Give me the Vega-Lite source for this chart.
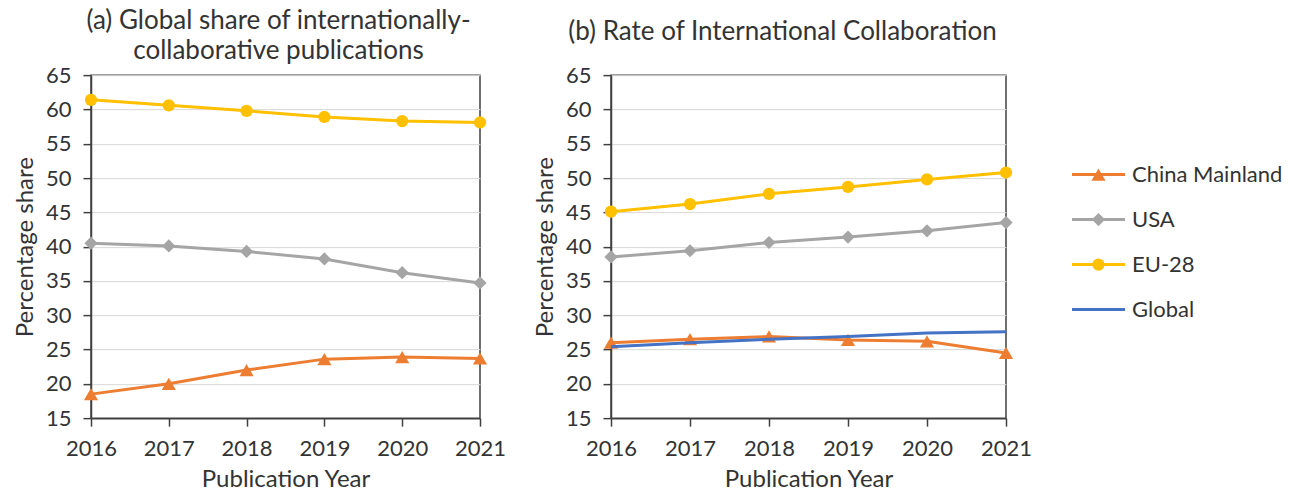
{
  "$schema": "https://vega.github.io/schema/vega-lite/v6.json",
  "padding": {"left": 12, "top": 7, "right": 5, "bottom": 5},
  "datasets": {
    "main": [
      {"panel": "a", "series": "China Mainland", "year": 2016, "value": 18.5},
      {"panel": "a", "series": "China Mainland", "year": 2017, "value": 20.0},
      {"panel": "a", "series": "China Mainland", "year": 2018, "value": 22.0},
      {"panel": "a", "series": "China Mainland", "year": 2019, "value": 23.6},
      {"panel": "a", "series": "China Mainland", "year": 2020, "value": 23.9},
      {"panel": "a", "series": "China Mainland", "year": 2021, "value": 23.7},
      {"panel": "a", "series": "USA", "year": 2016, "value": 40.5},
      {"panel": "a", "series": "USA", "year": 2017, "value": 40.1},
      {"panel": "a", "series": "USA", "year": 2018, "value": 39.3},
      {"panel": "a", "series": "USA", "year": 2019, "value": 38.2},
      {"panel": "a", "series": "USA", "year": 2020, "value": 36.2},
      {"panel": "a", "series": "USA", "year": 2021, "value": 34.7},
      {"panel": "a", "series": "EU-28", "year": 2016, "value": 61.4},
      {"panel": "a", "series": "EU-28", "year": 2017, "value": 60.6},
      {"panel": "a", "series": "EU-28", "year": 2018, "value": 59.8},
      {"panel": "a", "series": "EU-28", "year": 2019, "value": 58.9},
      {"panel": "a", "series": "EU-28", "year": 2020, "value": 58.3},
      {"panel": "a", "series": "EU-28", "year": 2021, "value": 58.1},
      {"panel": "b", "series": "China Mainland", "year": 2016, "value": 26.0},
      {"panel": "b", "series": "China Mainland", "year": 2017, "value": 26.5},
      {"panel": "b", "series": "China Mainland", "year": 2018, "value": 26.9},
      {"panel": "b", "series": "China Mainland", "year": 2019, "value": 26.4},
      {"panel": "b", "series": "China Mainland", "year": 2020, "value": 26.2},
      {"panel": "b", "series": "China Mainland", "year": 2021, "value": 24.5},
      {"panel": "b", "series": "USA", "year": 2016, "value": 38.5},
      {"panel": "b", "series": "USA", "year": 2017, "value": 39.4},
      {"panel": "b", "series": "USA", "year": 2018, "value": 40.6},
      {"panel": "b", "series": "USA", "year": 2019, "value": 41.4},
      {"panel": "b", "series": "USA", "year": 2020, "value": 42.3},
      {"panel": "b", "series": "USA", "year": 2021, "value": 43.5},
      {"panel": "b", "series": "EU-28", "year": 2016, "value": 45.1},
      {"panel": "b", "series": "EU-28", "year": 2017, "value": 46.2},
      {"panel": "b", "series": "EU-28", "year": 2018, "value": 47.7},
      {"panel": "b", "series": "EU-28", "year": 2019, "value": 48.7},
      {"panel": "b", "series": "EU-28", "year": 2020, "value": 49.8},
      {"panel": "b", "series": "EU-28", "year": 2021, "value": 50.8},
      {"panel": "b", "series": "Global", "year": 2016, "value": 25.4},
      {"panel": "b", "series": "Global", "year": 2017, "value": 26.0},
      {"panel": "b", "series": "Global", "year": 2018, "value": 26.5},
      {"panel": "b", "series": "Global", "year": 2019, "value": 26.9},
      {"panel": "b", "series": "Global", "year": 2020, "value": 27.4},
      {"panel": "b", "series": "Global", "year": 2021, "value": 27.6}
    ],
    "legend": [
      {"series": "China Mainland"},
      {"series": "USA"},
      {"series": "EU-28"},
      {"series": "Global"}
    ]
  },
  "center": true,
  "hconcat": [
    {
      "spacing": 25,
      "hconcat": [
        {
          "width": 389,
          "height": 343,
          "data": {"name": "main"},
          "transform": [{"filter": "datum.panel === 'a'"}],
          "title": {
            "text": ["(a) Global share of internationally-", "collaborative publications"],
            "lineHeight": 30,
            "offset": 0,
            "frame": "group",
            "dx": -7
          },
          "encoding": {
            "x": {"field": "year", "type": "quantitative", "scale": {"domain": [2016, 2021], "nice": false, "zero": false},
                  "axis": {"values": [2016, 2017, 2018, 2019, 2020, 2021], "format": "d", "grid": false, "title": "Publication Year"}},
            "y": {"field": "value", "type": "quantitative", "scale": {"domain": [15, 65], "nice": false, "zero": false},
                  "axis": {"values": [15, 20, 25, 30, 35, 40, 45, 50, 55, 60, 65], "grid": true, "title": "Percentage share"}},
            "color": {"field": "series", "type": "nominal", "legend": null,
                      "scale": {"domain": ["China Mainland", "USA", "EU-28", "Global"], "range": ["#ED7D31", "#A5A5A5", "#FFC000", "#4472C4"]}}
          },
          "layer": [
            {"mark": {"type": "line", "strokeWidth": 3}},
            {"mark": {"type": "point", "filled": true, "opacity": 1},
             "encoding": {
               "shape": {"field": "series", "type": "nominal", "legend": null,
                         "scale": {"domain": ["China Mainland", "USA", "EU-28"], "range": ["triangle-up", "diamond", "circle"]}},
               "size": {"field": "series", "type": "nominal", "legend": null,
                        "scale": {"domain": ["China Mainland", "USA", "EU-28"], "range": [200, 150, 220]}}
             }}
          ]
        },
        {
          "width": 395,
          "height": 343,
          "data": {"name": "main"},
          "transform": [{"filter": "datum.panel === 'b'"}],
          "title": {
            "text": [" ", "(b) Rate of International Collaboration"],
            "lineHeight": 11,
            "offset": 19,
            "frame": "bounds"
          },
          "encoding": {
            "x": {"field": "year", "type": "quantitative", "scale": {"domain": [2016, 2021], "nice": false, "zero": false},
                  "axis": {"values": [2016, 2017, 2018, 2019, 2020, 2021], "format": "d", "grid": false, "title": "Publication Year"}},
            "y": {"field": "value", "type": "quantitative", "scale": {"domain": [15, 65], "nice": false, "zero": false},
                  "axis": {"values": [15, 20, 25, 30, 35, 40, 45, 50, 55, 60, 65], "grid": true, "title": "Percentage share"}},
            "color": {"field": "series", "type": "nominal", "legend": null}
          },
          "layer": [
            {"transform": [{"filter": "datum.series !== 'Global'"}],
             "mark": {"type": "line", "strokeWidth": 3}},
            {"transform": [{"filter": "datum.series !== 'Global'"}],
             "mark": {"type": "point", "filled": true, "opacity": 1},
             "encoding": {
               "shape": {"field": "series", "type": "nominal", "legend": null},
               "size": {"field": "series", "type": "nominal", "legend": null}
             }},
            {"transform": [{"filter": "datum.series === 'Global'"}],
             "mark": {"type": "line", "strokeWidth": 3}}
          ]
        }
      ]
    },
    {
      "width": 53,
      "height": 225,
      "view": {"stroke": null},
      "data": {"name": "legend"},
      "encoding": {
        "y": {"field": "series", "type": "nominal", "axis": null,
              "scale": {"type": "point", "domain": ["China Mainland", "USA", "EU-28", "Global"], "padding": 1, "align": 0.04}},
        "color": {"field": "series", "type": "nominal", "legend": null}
      },
      "layer": [
        {"mark": {"type": "rule", "strokeWidth": 3},
         "encoding": {"x": {"datum": 0, "type": "quantitative", "scale": {"domain": [0, 1]}, "axis": null}, "x2": {"datum": 1}}},
        {"transform": [{"filter": "datum.series !== 'Global'"}],
         "mark": {"type": "point", "filled": true, "opacity": 1},
         "encoding": {
           "x": {"datum": 0.5, "type": "quantitative", "axis": null},
           "shape": {"field": "series", "type": "nominal", "legend": null},
           "size": {"field": "series", "type": "nominal", "legend": null}
         }},
        {"mark": {"type": "text", "align": "left", "baseline": "middle", "dx": 7, "font": "Lato", "fontSize": 22, "color": "#333333"},
         "encoding": {
           "x": {"datum": 1, "type": "quantitative", "axis": null},
           "text": {"field": "series"},
           "color": {"value": "#333333"}
         }}
      ]
    }
  ],
  "spacing": 37,
  "config": {
    "font": "Lato",
    "view": {"stroke": "#404040", "strokeWidth": 1.5},
    "title": {"font": "Lato", "fontSize": 26, "fontWeight": "normal", "color": "#333333", "anchor": "middle"},
    "axis": {
      "labelFont": "Lato", "labelFontSize": 22, "labelColor": "#333333", "labelFlush": false,
      "titleFont": "Lato", "titleFontSize": 24, "titleFontWeight": "normal", "titleColor": "#333333",
      "domainColor": "#404040", "domainWidth": 1.5, "tickColor": "#404040", "tickWidth": 1.5, "tickSize": 8,
      "gridColor": "#d9d9d9", "gridWidth": 1, "labelPadding": 12, "titlePadding": 8
    }
  }
}
